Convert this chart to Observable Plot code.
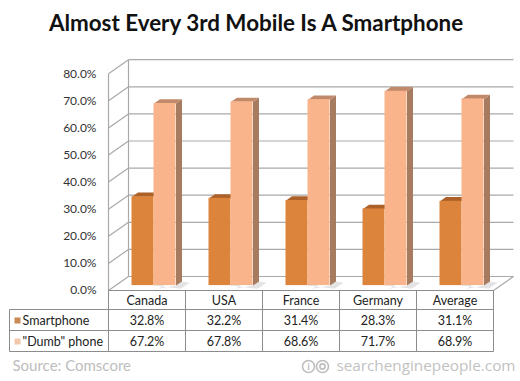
<!DOCTYPE html>
<html>
<head>
<meta charset="utf-8">
<script src="https://cdn.jsdelivr.net/npm/d3@7"></script>
<script src="https://cdn.jsdelivr.net/npm/@observablehq/plot@0.6"></script>
<style>
  html, body { margin: 0; padding: 0; background: #fff; }
  #chart { width: 520px; height: 381px; }
</style>
</head>
<body>
<div id="chart"></div>
<script>
// ---- data ----
const title = "Almost Every 3rd Mobile Is A Smartphone";
const categories = ["Canada", "USA", "France", "Germany", "Average"];
const seriesNames = ["Smartphone", "\"Dumb\" phone"];
const smartphone = [32.8, 32.2, 31.4, 28.3, 31.1];
const dumbphone = [67.2, 67.8, 68.6, 71.7, 68.9];
const yTicks = [0, 10, 20, 30, 40, 50, 60, 70, 80];
const sourceText = "Source: Comscore";
const creditText = "searchenginepeople.com";

// ---- layout ----
const W = 520, H = 381;
const CAT_PX = 77, X0 = 146.5;     // pixel width of a category, pixel centre of first one
const Y0 = 290, UNIT_PX = 2.71;    // pixel of 0%, pixels per 1%
const xPix = px => (px - X0) / CAT_PX;
const yPix = py => (Y0 - py) / UNIT_PX;
const DX = 20 / CAT_PX, DY = 14 / UNIT_PX; // full depth of the 3D box, in data units
const xL = -0.5, xR = categories.length - 0.5;
const barW = 22 / CAT_PX;
const d0 = 0.35, d1 = 0.65;        // bar front / back depth fractions

const colors = {
  smartFront: "#dc843b", smartTop: "#ac6128", smartSide: "#a35a24",
  dumbFront: "#fab48b", dumbTop: "#c08a6a", dumbSide: "#a67b60",
  smartSwatch: "#c98a55", dumbSwatch: "#f2c8ad"
};
const grid = "#a9a9a9", tableLine = "#8c8c8c";
const font = "Lato, 'Open Sans', sans-serif";

// bars
const bars = [];
categories.forEach((c, i) => {
  bars.push({i, s: 0, v: smartphone[i], x1: i + DX * d0 - barW, x2: i + DX * d0});
  bars.push({i, s: 1, v: dumbphone[i], x1: i + DX * d0, x2: i + DX * d0 + barW});
});
const dd = d1 - d0;
function topFace(b) {
  return [
    {z: b.i, x: b.x1, y: b.v + DY * d0},
    {z: b.i, x: b.x2, y: b.v + DY * d0},
    {z: b.i, x: b.x2 + DX * dd, y: b.v + DY * d1},
    {z: b.i, x: b.x1 + DX * dd, y: b.v + DY * d1}
  ];
}
function sideFace(b) {
  return [
    {z: b.i, x: b.x2, y: DY * d0},
    {z: b.i, x: b.x2, y: b.v + DY * d0},
    {z: b.i, x: b.x2 + DX * dd, y: b.v + DY * d1},
    {z: b.i, x: b.x2 + DX * dd, y: DY * d1}
  ];
}
function shadowFace(b) {
  return [
    {z: b.i, x: b.x2, y: DY * d0},
    {z: b.i, x: b.x2 + DX * dd, y: DY * d1},
    {z: b.i, x: b.x2 + DX * dd + 0.1, y: DY * d1 - 0.5},
    {z: b.i, x: b.x2 + 0.06, y: DY * d0 - 1.2}
  ];
}
const smartBars = bars.filter(b => b.s === 0);
const dumbBars = bars.filter(b => b.s === 1);

const bounds = categories.map((c, i) => i - 0.5).concat([xR]);
const rowTop = [yPix(290), yPix(309), yPix(330), yPix(351)];
const rowMid = [yPix(300), yPix(320), yPix(341)];
const fmt = v => v.toFixed(1) + "%";

const chart = Plot.plot({
  width: W, height: H,
  margin: 0,
  x: {type: "linear", domain: [xPix(0), xPix(W)], range: [0, W], axis: null},
  y: {type: "linear", domain: [yPix(H), yPix(0)], range: [H, 0], axis: null},
  style: {fontFamily: font, background: "#fff"},
  marks: [
    // back wall gridlines
    Plot.link(yTicks, {x1: xL + DX, x2: xR + DX, y1: t => t + DY, y2: t => t + DY, stroke: grid, strokeWidth: 1.2}),
    // left wall diagonals
    Plot.link(yTicks, {x1: xL, y1: t => t, x2: xL + DX, y2: t => t + DY, stroke: grid, strokeWidth: 1.2}),
    // walls edges
    Plot.link([0], {x1: xL, x2: xL, y1: 0, y2: 80, stroke: grid, strokeWidth: 1.2}),
    Plot.link([0], {x1: xL + DX, x2: xL + DX, y1: DY, y2: 80 + DY, stroke: grid, strokeWidth: 1.2}),
    Plot.link([0], {x1: xR, x2: xR + DX, y1: 0, y2: DY, stroke: grid, strokeWidth: 1.2}),
    // bar shadows
    Plot.line(bars.flatMap(shadowFace), {x: "x", y: "y", z: "z", fill: "#e4e4e4", stroke: "none"}),
    // smartphone bars
    Plot.line(smartBars.flatMap(sideFace), {x: "x", y: "y", z: "z", fill: colors.smartSide, stroke: "none"}),
    Plot.line(smartBars.flatMap(topFace), {x: "x", y: "y", z: "z", fill: colors.smartTop, stroke: "none"}),
    Plot.rect(smartBars, {x1: "x1", x2: "x2", y1: DY * d0, y2: b => b.v + DY * d0, fill: colors.smartFront}),
    // dumb phone bars
    Plot.line(dumbBars.flatMap(sideFace), {x: "x", y: "y", z: "z", fill: colors.dumbSide, stroke: "none"}),
    Plot.line(dumbBars.flatMap(topFace), {x: "x", y: "y", z: "z", fill: colors.dumbTop, stroke: "none"}),
    Plot.rect(dumbBars, {x1: "x1", x2: "x2", y1: DY * d0, y2: b => b.v + DY * d0, fill: colors.dumbFront}),
    // table: vertical lines
    Plot.link(bounds, {x1: b => b, x2: b => b, y1: rowTop[0], y2: rowTop[3], stroke: tableLine}),
    Plot.link([0], {x1: xPix(9), x2: xPix(9), y1: rowTop[1], y2: rowTop[3], stroke: tableLine}),
    // table: horizontal lines
    Plot.link([0], {x1: xL, x2: xR, y1: rowTop[0], y2: rowTop[0], stroke: tableLine}),
    Plot.link(rowTop.slice(1), {x1: xPix(9), x2: xR, y1: r => r, y2: r => r, stroke: tableLine}),
    // y tick labels
    Plot.text(yTicks, {x: xL, y: t => t, dx: -12, textAnchor: "end", text: fmt, fontSize: 12, fill: "#333"}),
    // table text
    Plot.text(categories, {x: (d, i) => i, y: rowMid[0], text: d => d, fontSize: 12.5, fill: "#222"}),
    Plot.text(smartphone, {x: (d, i) => i, y: rowMid[1], text: fmt, fontSize: 12.5, fill: "#222"}),
    Plot.text(dumbphone, {x: (d, i) => i, y: rowMid[2], text: fmt, fontSize: 12.5, fill: "#222"}),
    Plot.dot(seriesNames, {x: xPix(17), y: (d, i) => rowMid[i + 1], symbol: "square", r: 3.4,
      fill: (d, i) => i === 0 ? colors.smartSwatch : colors.dumbSwatch, stroke: "none"}),
    Plot.text(seriesNames, {x: xPix(22), y: (d, i) => rowMid[i + 1], text: d => d, textAnchor: "start", fontSize: 12.5, fill: "#222"}),
    // title
    Plot.text([title], {x: xPix(255.5), y: yPix(23), text: d => d, fontSize: 22.4, fontWeight: "bold", fill: "#111"}),
    // source / credit
    Plot.text([sourceText], {x: xPix(12), y: yPix(366), text: d => d, textAnchor: "start", fontSize: 15, fill: "#bdbdbd"}),
    Plot.dot([0, 1], {x: d => xPix(308 + d * 14), y: yPix(366), r: 6, stroke: "#bdbdbd", strokeWidth: 1.6, fill: "none"}),
    Plot.dot([1], {x: d => xPix(308 + d * 14), y: yPix(366), r: 2.6, stroke: "#bdbdbd", strokeWidth: 1.6, fill: "none"}),
    Plot.text(["i"], {x: xPix(308), y: yPix(366.5), text: d => d, fontSize: 10, fontWeight: "bold", fill: "#bdbdbd"}),
    Plot.text([creditText], {x: xPix(515), y: yPix(366), text: d => d, textAnchor: "end", fontSize: 15.3,
      fontFamily: "'Open Sans', sans-serif", fill: "#c2c2c2"})
  ]
});
document.getElementById("chart").appendChild(chart);
</script>
</body>
</html>
